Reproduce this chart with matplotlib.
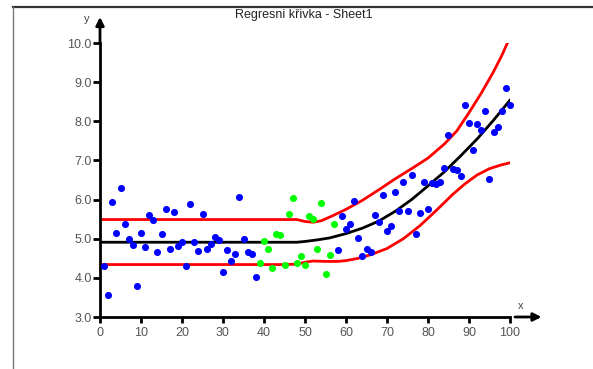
import matplotlib
matplotlib.use("Agg")
import matplotlib.pyplot as plt
from matplotlib.lines import Line2D

plt.rcParams['font.family'] = ['Liberation Sans', 'DejaVu Sans']

# ---- data ----
blue_x = list(range(1, 39)) + list(range(58, 101))
blue_y = [4.31, 3.55, 5.95, 5.14, 6.30, 5.37, 4.99, 4.84, 3.78, 5.15,
          4.78, 5.61, 5.48, 4.66, 5.11, 5.76, 4.74, 5.69, 4.82, 4.91,
          4.31, 5.89, 4.92, 4.69, 5.62, 4.74, 4.86, 5.05, 4.97, 4.15,
          4.71, 4.44, 4.62, 6.07, 5.00, 4.65, 4.60, 4.01,
          4.72, 5.59, 5.26, 5.38, 5.96, 5.01, 4.55, 4.74, 4.67, 5.60,
          5.43, 6.12, 5.19, 5.32, 6.20, 5.70, 6.45, 5.72, 6.62, 5.13,
          5.66, 6.45, 5.76, 6.42, 6.40, 6.44, 6.81, 7.64, 6.79, 6.76,
          6.59, 8.42, 7.95, 7.26, 7.94, 7.79, 8.26, 6.53, 7.73, 7.85,
          8.26, 8.86, 8.41]
green_x = list(range(39, 58))
green_y = [4.37, 4.94, 4.75, 4.24, 5.12, 5.09, 4.32, 5.64, 6.03, 4.38,
           4.56, 4.33, 5.57, 5.51, 4.74, 5.90, 4.10, 4.58, 5.38]

fit_x = [0, 45, 48, 50, 53, 56, 60, 64, 68, 72, 76, 80, 84, 88, 92, 96, 100]
fit_y = [4.91, 4.91, 4.91, 4.93, 4.97, 5.02, 5.13, 5.27, 5.45, 5.70, 6.00,
         6.35, 6.71, 7.12, 7.55, 8.03, 8.54]

up_x = [0, 45, 48, 50, 52, 54, 57, 60, 64, 68, 72, 76, 80, 84, 87, 90, 93, 96, 98, 100]
up_y = [5.49, 5.49, 5.49, 5.44, 5.42, 5.46, 5.60, 5.75, 5.98, 6.25, 6.53, 6.79,
        7.06, 7.42, 7.75, 8.22, 8.72, 9.27, 9.68, 10.15]

lo_x = [0, 45, 48, 50, 52, 55, 58, 60, 63, 66, 70, 74, 78, 82, 86, 89, 92, 95, 98, 100]
lo_y = [4.34, 4.34, 4.35, 4.40, 4.43, 4.42, 4.42, 4.44, 4.50, 4.59, 4.75, 5.00,
        5.33, 5.72, 6.13, 6.40, 6.63, 6.79, 6.89, 6.94]

x_ticks = [0, 10, 20, 30, 40, 50, 60, 70, 80, 90, 100]
y_ticks = [3.0, 4.0, 5.0, 6.0, 7.0, 8.0, 9.0, 10.0]
title = "Regresni křivka - Sheet1"

# ---- figure ----
W, H = 593, 369
fig = plt.figure(figsize=(W / 100, H / 100), dpi=100)
fig.patch.set_facecolor('white')

# frame lines (top and left)
fig.add_artist(Line2D([12.5 / W, 1], [1 - 7 / H, 1 - 7 / H], color='#333333', lw=1.6,
                      transform=fig.transFigure))
fig.add_artist(Line2D([12.5 / W, 12.5 / W], [0, 1 - 7 / H], color='#777777', lw=1.0,
                      transform=fig.transFigure))

fig.text(304 / W, 1 - 15 / H, title, ha='center', va='center', fontsize=9, color='#222222')

ax = fig.add_axes([100 / W, 1 - 317 / H, 410 / W, 274 / H])
ax.set_xlim(0, 100)
ax.set_ylim(3, 10)
for s in ['top', 'right']:
    ax.spines[s].set_visible(False)
for s in ['left', 'bottom']:
    ax.spines[s].set_linewidth(2)
    ax.spines[s].set_color('black')

ax.set_xticks(x_ticks)
ax.set_xticklabels([str(v) for v in x_ticks])
ax.set_yticks(y_ticks)
ax.set_yticklabels([f"{v:.1f}" for v in y_ticks])
ax.tick_params(axis='both', direction='out', width=2, color='black',
               labelsize=9, labelcolor='#555555')
ax.tick_params(axis='y', length=5, pad=1)
ax.tick_params(axis='x', length=4.5, pad=3)

ax.plot(up_x, up_y, color='#ff0000', lw=2)
ax.plot(lo_x, lo_y, color='#ff0000', lw=2)
ax.plot(fit_x, fit_y, color='black', lw=2)
ax.scatter(blue_x, blue_y, s=26, color='#0000ff', zorder=3, clip_on=False, linewidths=0)
ax.scatter(green_x, green_y, s=26, color='#00ff00', zorder=3, clip_on=False, linewidths=0)

# axis arrows
ax.annotate('', xy=(0, 1.095), xytext=(0, 1.0), xycoords='axes fraction',
            arrowprops=dict(arrowstyle='-|>', color='black', lw=2, mutation_scale=12,
                            shrinkA=0, shrinkB=0), annotation_clip=False)
ax.annotate('', xy=(1.077, 0), xytext=(1.012, 0), xycoords='axes fraction',
            arrowprops=dict(arrowstyle='-|>', color='black', lw=2, mutation_scale=12,
                            shrinkA=0, shrinkB=0), annotation_clip=False)
fig.text(87 / W, 1 - 19 / H, 'y', ha='center', va='center', fontsize=8, color='#444444')
fig.text(521 / W, 1 - 306 / H, 'x', ha='center', va='center', fontsize=8, color='#444444')

fig.savefig('out.png', dpi=100)
